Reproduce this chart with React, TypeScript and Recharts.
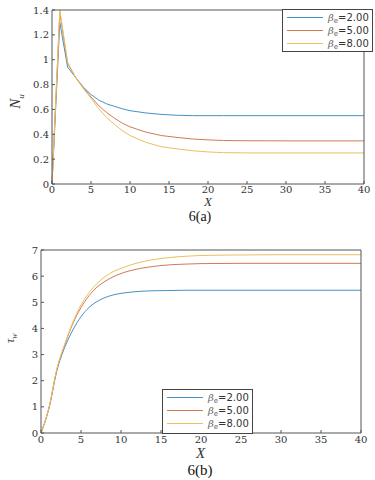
import React from 'react'
import { LineChart, Line, XAxis, YAxis } from 'recharts'

// 6(a): Nu against X
const xA = [0, 1, 2, 3, 4, 5, 6, 7, 8, 9, 10, 12, 14, 16, 18, 20, 22, 25, 30, 35, 40]
const nuB2 = [0, 1.30, 0.94, 0.86, 0.78, 0.72, 0.675, 0.645, 0.625, 0.605, 0.59, 0.572, 0.56, 0.553, 0.55, 0.55, 0.55, 0.55, 0.55, 0.55, 0.55]
const nuB5 = [0, 1.38, 0.97, 0.86, 0.775, 0.70, 0.63, 0.575, 0.53, 0.49, 0.46, 0.418, 0.39, 0.375, 0.362, 0.355, 0.35, 0.348, 0.347, 0.347, 0.347]
const nuB8 = [0, 1.40, 0.98, 0.86, 0.77, 0.69, 0.605, 0.535, 0.48, 0.43, 0.39, 0.336, 0.30, 0.283, 0.268, 0.258, 0.252, 0.25, 0.25, 0.25, 0.25]

// 6(b): tau_w against X
const xB = [0, 1, 2, 3, 4, 5, 6, 7, 8, 9, 10, 12, 14, 16, 18, 20, 25, 30, 35, 40]
const tauB2 = [0, 0.95, 2.4, 3.3, 3.95, 4.45, 4.8, 5.03, 5.18, 5.28, 5.34, 5.41, 5.44, 5.45, 5.46, 5.46, 5.46, 5.46, 5.46, 5.46]
const tauB5 = [0, 0.97, 2.45, 3.4, 4.2, 4.8, 5.25, 5.58, 5.8, 5.97, 6.1, 6.27, 6.37, 6.43, 6.46, 6.48, 6.49, 6.49, 6.49, 6.49]
const tauB8 = [0, 0.98, 2.47, 3.42, 4.25, 4.9, 5.37, 5.72, 5.98, 6.17, 6.3, 6.5, 6.63, 6.71, 6.76, 6.79, 6.81, 6.82, 6.82, 6.82]

const xTicks = [0, 5, 10, 15, 20, 25, 30, 35, 40]
const nuTicks = [0, 0.2, 0.4, 0.6, 0.8, 1, 1.2, 1.4]
const tauTicks = [0, 1, 2, 3, 4, 5, 6, 7]
const betas = ['2.00', '5.00', '8.00']
const COLORS = ['#4393c6', '#d27a55', '#ecc05e']

const dataA = xA.map((x, i) => ({ x, b2: nuB2[i], b5: nuB5[i], b8: nuB8[i] }))
const dataB = xB.map((x, i) => ({ x, b2: tauB2[i], b5: tauB5[i], b8: tauB8[i] }))

const AXIS = '#555'
const tickStyle = { fontFamily: 'DejaVu Serif', fontSize: 10, fill: '#333' }

const LegendBox = (props: any) => (
  <div style={{
    position: 'absolute', border: '1px solid #444', background: '#fff', padding: '1px 3px 1px 4px',
    fontFamily: 'DejaVu Sans', fontSize: 10, color: '#333', lineHeight: '13px', ...props.style
  }}>
    {betas.map((b, i) => (
      <div key={i} style={{ display: 'flex', alignItems: 'center', height: 13 }}>
        <span style={{ display: 'inline-block', width: 36, height: 0, borderTop: `1px solid ${COLORS[i]}`, marginRight: 5 }} />
        <span style={{ fontFamily: 'DejaVu Serif', fontStyle: 'italic', color: '#666' }}>β</span>
        <span style={{ fontSize: 7, position: 'relative', top: 4, color: '#666' }}>e</span>
        <span>={b}</span>
      </div>
    ))}
  </div>
)

const frameAxes = (yDomain: number[], yTicks: number[]) => [
  <XAxis key="xt" xAxisId="top" orientation="top" dataKey="x" type="number" domain={[0, 40]} ticks={xTicks}
    tick={false} tickSize={-3} tickLine={{ stroke: AXIS }} axisLine={{ stroke: AXIS }} height={1} />,
  <YAxis key="yr" yAxisId="right" orientation="right" type="number" domain={yDomain} ticks={yTicks}
    tick={false} tickSize={-3} tickLine={{ stroke: AXIS }} axisLine={{ stroke: AXIS }} width={1} />,
]

const App = () => {
  return (
    <div style={{ position: 'absolute', left: 0, top: 0, width: 375, height: 480, background: '#fff', fontFamily: 'Liberation Serif' }}>
      <div style={{ position: 'absolute', left: 0, top: 0 }}>
        <LineChart width={375} height={240} data={dataA} margin={{ top: 9, right: 10, left: 0, bottom: 36 }}>
          <XAxis dataKey="x" type="number" domain={[0, 40]} ticks={xTicks} tick={tickStyle}
            tickSize={-3} tickMargin={5} tickLine={{ stroke: AXIS }} axisLine={{ stroke: AXIS }} height={20} />
          <YAxis type="number" domain={[0, 1.4]} ticks={nuTicks} tick={tickStyle} interval={0}
            tickSize={-3} tickMargin={6} tickLine={{ stroke: AXIS }} axisLine={{ stroke: AXIS }} width={52} />
          {frameAxes([0, 1.4], nuTicks)}
          <Line dataKey="b2" stroke={COLORS[0]} strokeWidth={1} dot={false} type="linear" isAnimationActive={false} />
          <Line dataKey="b5" stroke={COLORS[1]} strokeWidth={1} dot={false} type="linear" isAnimationActive={false} />
          <Line dataKey="b8" stroke={COLORS[2]} strokeWidth={1} dot={false} type="linear" isAnimationActive={false} />
        </LineChart>
      </div>
      <LegendBox style={{ left: 282, top: 9 }} />
      <div style={{ position: 'absolute', left: 9, top: 92, transform: 'rotate(-90deg)', fontSize: 15, color: '#333' }}>
        <i>N</i><sub style={{ fontSize: 9 }}><i>u</i></sub>
      </div>
      <div style={{ position: 'absolute', left: 204, top: 197, fontSize: 13, lineHeight: '10px', fontStyle: 'italic', color: '#333' }}>X</div>
      <div style={{ position: 'absolute', left: 0, width: 400, top: 211, textAlign: 'center', fontSize: 14, lineHeight: '12px', color: '#111' }}>6(a)</div>

      <div style={{ position: 'absolute', left: 0, top: 240 }}>
        <LineChart width={375} height={240} data={dataB} margin={{ top: 9, right: 13, left: 0, bottom: 27 }}>
          <XAxis dataKey="x" type="number" domain={[0, 40]} ticks={xTicks} tick={tickStyle}
            tickSize={-3} tickMargin={6} tickLine={{ stroke: AXIS }} axisLine={{ stroke: AXIS }} height={20} />
          <YAxis type="number" domain={[0, 7]} ticks={tauTicks} tick={tickStyle} interval={0}
            tickSize={-3} tickMargin={6} tickLine={{ stroke: AXIS }} axisLine={{ stroke: AXIS }} width={41} />
          {frameAxes([0, 7], tauTicks)}
          <Line dataKey="b2" stroke={COLORS[0]} strokeWidth={1} dot={false} type="monotone" isAnimationActive={false} />
          <Line dataKey="b5" stroke={COLORS[1]} strokeWidth={1} dot={false} type="monotone" isAnimationActive={false} />
          <Line dataKey="b8" stroke={COLORS[2]} strokeWidth={1} dot={false} type="monotone" isAnimationActive={false} />
        </LineChart>
      </div>
      <LegendBox style={{ left: 162, top: 389, height: 41 }} />
      <div style={{ position: 'absolute', left: 6, top: 330, transform: 'rotate(-90deg)', fontSize: 12, color: '#444' }}>
        <i>τ</i><sub style={{ fontSize: 8 }}><i>w</i></sub>
      </div>
      <div style={{ position: 'absolute', left: 196, top: 448, fontSize: 15, lineHeight: '10px', fontStyle: 'italic', color: '#333' }}>X</div>
      <div style={{ position: 'absolute', left: 0, width: 400, top: 464, textAlign: 'center', fontSize: 15, lineHeight: '12px', color: '#111' }}>6(b)</div>
    </div>
  )
}

export default App
